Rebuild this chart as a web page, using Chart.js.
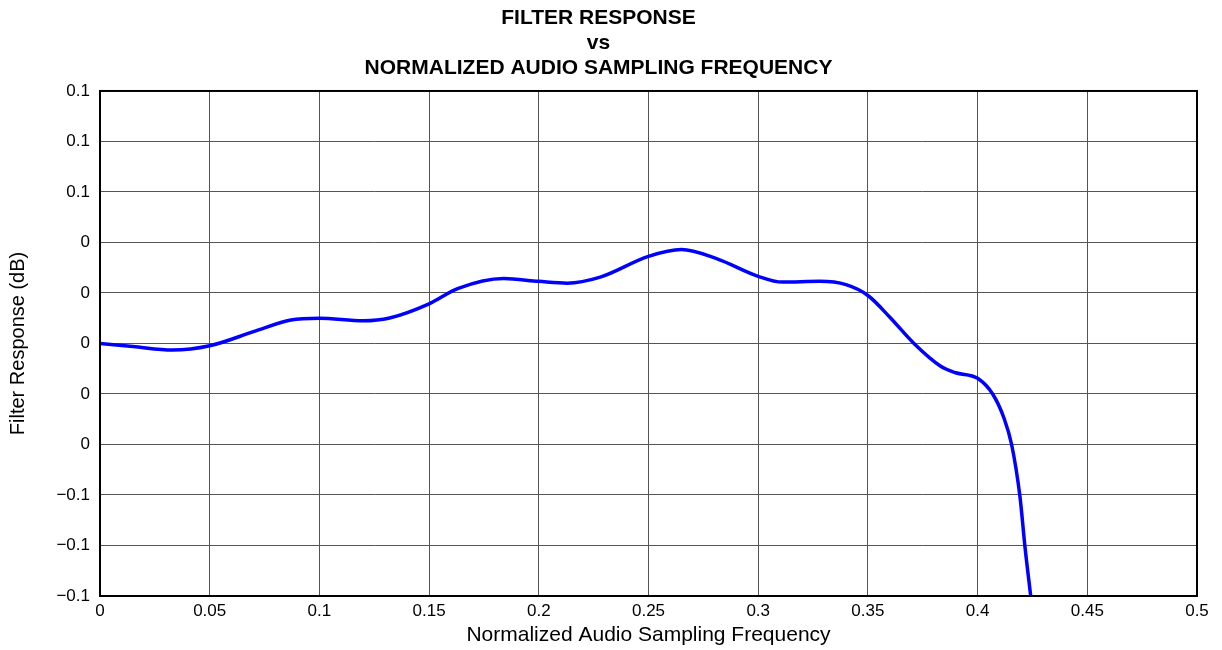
<!DOCTYPE html>
<html>
    <head>
        <title>Filter Response</title>
        <style>
            html, body
            {
                margin: 0;
                padding: 0;
                background: #fff;
            }

            #chartWrapper
            {
                width: 1222px;
                height: 650px;
            }
        </style>
        <script src="https://cdn.jsdelivr.net/npm/chart.js"></script>
        <script>
            // values
            const freq = [0, 0.015, 0.033, 0.05, 0.071, 0.087, 0.1, 0.12, 0.132, 0.15, 0.163, 0.184, 0.2, 0.213,
                0.228, 0.25, 0.265, 0.281, 0.3, 0.311, 0.328, 0.34, 0.35, 0.36, 0.371, 0.383, 0.39, 0.4,
                0.407, 0.412, 0.4155, 0.4193, 0.4216, 0.4242];
            const response = [0, -0.0012, -0.0026, -0.0009, 0.005, 0.0093, 0.01, 0.009, 0.0101, 0.0157, 0.0217, 0.0257, 0.0246, 0.0239,
                0.0263, 0.0345, 0.0372, 0.0336, 0.0266, 0.0243, 0.0246, 0.0233, 0.019, 0.0104, 0.0, -0.0089, -0.0116, -0.0138,
                -0.0202, -0.0295, -0.040, -0.0606, -0.0806, -0.1];

            const titleLines = ["FILTER RESPONSE", "vs", "NORMALIZED AUDIO SAMPLING FREQUENCY"];
            const xLabel = "Normalized Audio Sampling Frequency";
            const yLabel = "Filter Response (dB)";

            const font = "'Liberation Sans', Arial, sans-serif";

            // draws the black frame round the plot
            const frame = {
                id: "frame",
                afterDatasetsDraw(chart)
                {
                    const a = chart.chartArea;
                    const ctx = chart.ctx;
                    ctx.save();
                    ctx.strokeStyle = "#000";
                    ctx.lineWidth = 2;
                    ctx.strokeRect(a.left, a.top, a.right - a.left, a.bottom - a.top);
                    ctx.restore();
                }
            };

            function yTick(v)
            {
                let s = Math.abs(v).toFixed(1);
                if (s === "0.0") return "0";
                return (v < 0 ? "\u2212" : "") + s;
            }

            function init()
            {
                const points = freq.map((f, i) => ({x: f, y: response[i]}));

                new Chart(document.getElementById("lineChart"), {
                    type: "line",
                    data: {
                        datasets: [{
                            data: points,
                            borderColor: "#0000ff",
                            borderWidth: 3.5,
                            pointRadius: 0,
                            cubicInterpolationMode: "monotone",
                            fill: false
                        }]
                    },
                    plugins: [frame],
                    options: {
                        responsive: false,
                        animation: false,
                        layout: {padding: {left: 0, right: 25, top: 0, bottom: 0}},
                        plugins: {
                            legend: {display: false},
                            tooltip: {enabled: false},
                            title: {
                                display: true,
                                text: titleLines,
                                color: "#000",
                                font: {family: font, size: 21, weight: "bold", lineHeight: 1.19},
                                padding: {top: 6, bottom: 10}
                            }
                        },
                        scales: {
                            x: {
                                type: "linear",
                                min: 0,
                                max: 0.5,
                                ticks: {
                                    stepSize: 0.05,
                                    color: "#000",
                                    font: {family: font, size: 17},
                                    padding: 5,
                                    maxRotation: 0,
                                    callback: v => String(Math.round(v * 100) / 100)
                                },
                                grid: {color: "#555", lineWidth: 1, drawTicks: false},
                                border: {display: false},
                                title: {
                                    display: true,
                                    text: xLabel,
                                    color: "#000",
                                    font: {family: font, size: 21},
                                    padding: {top: 2, bottom: 2}
                                },
                                afterFit: s => { s.height = 54; }
                            },
                            y: {
                                min: -0.1,
                                max: 0.1,
                                ticks: {
                                    stepSize: 0.02,
                                    color: "#000",
                                    font: {family: font, size: 17},
                                    padding: 10,
                                    callback: v => yTick(v)
                                },
                                grid: {color: "#555", lineWidth: 1, drawTicks: false},
                                border: {display: false},
                                title: {
                                    display: true,
                                    text: yLabel,
                                    color: "#000",
                                    font: {family: font, size: 20},
                                    padding: {top: 6, bottom: 6}
                                },
                                afterFit: s => { s.width = 100; }
                            }
                        }
                    }
                });
            }
        </script>
    </head>
    <body onload="init();">
        <div id="chartWrapper">
            <canvas id="lineChart" width="1222" height="650"></canvas>
        </div>
    </body>
</html>
